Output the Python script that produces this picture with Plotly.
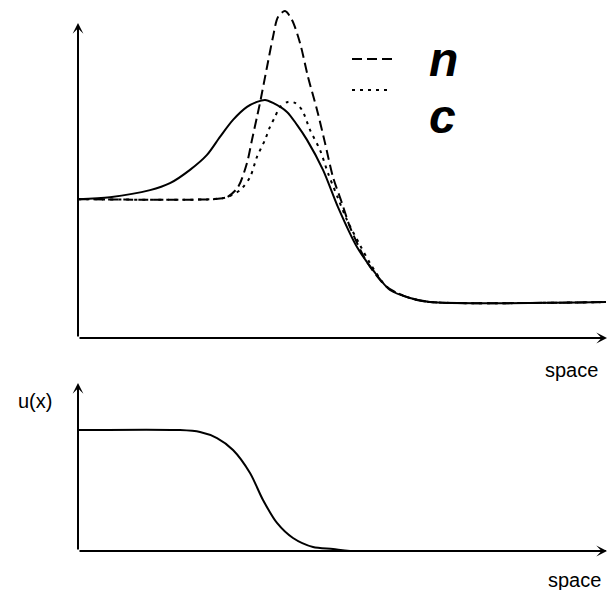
import plotly.graph_objects as go

W, H = 607, 590

# ---- data ----
solid_x = [0.000, 0.606, 1.364, 1.742, 2.121, 2.443, 2.689, 2.936, 3.201, 3.390, 3.542, 3.693,
           3.958, 4.148, 4.337, 4.640, 4.924, 5.284, 5.587, 5.909, 6.288, 6.667, 10.0]
solid_y = [0.417, 0.423, 0.444, 0.465, 0.505, 0.550, 0.604, 0.655, 0.694, 0.709, 0.715, 0.706,
           0.679, 0.640, 0.595, 0.505, 0.393, 0.273, 0.204, 0.144, 0.120, 0.108, 0.108]

n_x = [0.000, 2.557, 2.822, 3.030, 3.201, 3.295, 3.390, 3.447, 3.580, 3.693, 3.788, 3.920, 4.053,
       4.205, 4.356, 4.527, 4.678, 4.830, 5.000, 5.152, 5.473, 5.852, 6.288, 6.667, 10.0]
n_y = [0.417, 0.417, 0.423, 0.453, 0.526, 0.595, 0.664, 0.706, 0.814, 0.904, 0.964, 0.982, 0.955,
       0.886, 0.784, 0.685, 0.586, 0.483, 0.405, 0.333, 0.228, 0.153, 0.120, 0.108, 0.108]

c_x = [0.000, 2.557, 2.822, 3.068, 3.258, 3.390, 3.542, 3.636, 3.731, 3.826, 3.977, 4.110, 4.242,
       4.394, 4.583, 4.735, 4.924, 5.095, 5.341, 5.530, 5.852, 6.288, 6.667, 10.0]
c_y = [0.417, 0.417, 0.423, 0.444, 0.483, 0.544, 0.595, 0.634, 0.664, 0.694, 0.709, 0.706, 0.685,
       0.625, 0.565, 0.495, 0.420, 0.354, 0.279, 0.225, 0.153, 0.120, 0.108, 0.108]

u_x = [0.000, 1.932, 2.311, 2.633, 2.936, 3.258, 3.504, 3.769, 4.072, 4.451, 4.830, 5.152, 10.0]
u_y = [0.699, 0.699, 0.688, 0.653, 0.584, 0.451, 0.295, 0.162, 0.075, 0.023, 0.012, 0.000, 0.000]

legend_labels = ["n", "c"]
axis_label_x = "space"
axis_label_u = "u(x)"

# ---- figure ----
fig = go.Figure()
LW = 2
fig.add_trace(go.Scatter(x=solid_x, y=solid_y, mode="lines", xaxis="x", yaxis="y",
                         line=dict(color="black", width=LW, shape="spline", smoothing=0.8),
                         cliponaxis=False, showlegend=False))
fig.add_trace(go.Scatter(x=n_x, y=n_y, mode="lines", xaxis="x", yaxis="y",
                         line=dict(color="black", width=LW, dash="10px,5px", shape="spline", smoothing=0.8),
                         cliponaxis=False, showlegend=False))
fig.add_trace(go.Scatter(x=c_x, y=c_y, mode="lines", xaxis="x", yaxis="y",
                         line=dict(color="black", width=LW, dash="3px,5px", shape="spline", smoothing=0.8),
                         cliponaxis=False, showlegend=False))
fig.add_trace(go.Scatter(x=u_x, y=u_y, mode="lines", xaxis="x2", yaxis="y2",
                         line=dict(color="black", width=LW, shape="spline", smoothing=0.8),
                         cliponaxis=False, showlegend=False))

def px_x(p):
    return p / W

def px_y(p):
    return 1 - p / H

ax_common = dict(visible=False, range=[0, 10], domain=[px_x(78), px_x(606)], fixedrange=True)
fig.update_layout(
    width=W, height=H,
    margin=dict(l=0, r=0, t=0, b=0),
    paper_bgcolor="white", plot_bgcolor="white",
    xaxis=dict(**ax_common, anchor="y"),
    yaxis=dict(visible=False, range=[0, 1], domain=[px_y(338), px_y(5)], anchor="x"),
    xaxis2=dict(**ax_common, anchor="y2"),
    yaxis2=dict(visible=False, range=[0, 1], domain=[px_y(551), px_y(378)], anchor="x2"),
)

anns = []
# axis arrows
for xr, yr, tipx, tipy in [("x", "y", 10.02, 0), ("x", "y", 0, 0.946),
                           ("x2", "y2", 10.02, 0), ("x2", "y2", 0, 0.971)]:
    anns.append(dict(x=tipx, y=tipy, ax=0, ay=0, xref=xr, yref=yr, axref=xr, ayref=yr,
                     text="", showarrow=True, arrowhead=3, arrowsize=0.9, arrowwidth=2,
                     arrowcolor="black", standoff=0, startstandoff=0))
# axis labels
lab_font = dict(family="Liberation Sans, Arial, sans-serif", size=20, color="black")
anns.append(dict(x=px_x(571), y=px_y(370), xref="paper", yref="paper", text=axis_label_x,
                 showarrow=False, font=lab_font, xanchor="center", yanchor="middle"))
anns.append(dict(x=px_x(574), y=px_y(580), xref="paper", yref="paper", text=axis_label_x,
                 showarrow=False, font=lab_font, xanchor="center", yanchor="middle"))
anns.append(dict(x=px_x(35), y=px_y(401), xref="paper", yref="paper", text=axis_label_u,
                 showarrow=False, font=lab_font, xanchor="center", yanchor="middle"))
# legend text
leg_font = dict(family="Liberation Sans, Arial, sans-serif", size=48, color="black")
anns.append(dict(x=px_x(427), y=px_y(60), xref="paper", yref="paper",
                 text="<b><i>%s</i></b>" % legend_labels[0],
                 showarrow=False, font=leg_font, xanchor="left", yanchor="middle"))
anns.append(dict(x=px_x(427), y=px_y(117), xref="paper", yref="paper",
                 text="<b><i>%s</i></b>" % legend_labels[1],
                 showarrow=False, font=leg_font, xanchor="left", yanchor="middle"))
fig.update_layout(annotations=anns)

# legend keys
fig.add_shape(type="line", xref="paper", yref="paper", x0=px_x(352), x1=px_x(392),
              y0=px_y(59), y1=px_y(59), line=dict(color="black", width=2, dash="10px,5px"))
fig.add_shape(type="line", xref="paper", yref="paper", x0=px_x(352), x1=px_x(392),
              y0=px_y(90), y1=px_y(90), line=dict(color="black", width=2, dash="3px,5px"))

fig.write_html("out.html")
